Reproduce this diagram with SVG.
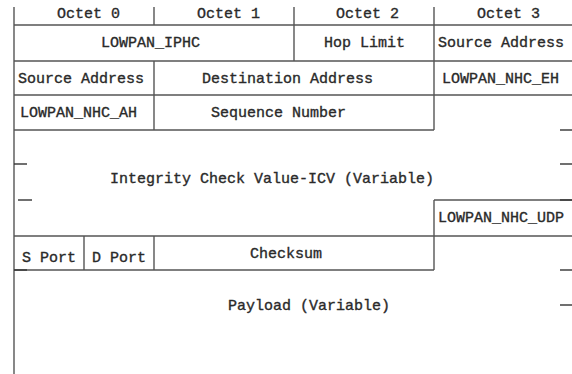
<svg xmlns="http://www.w3.org/2000/svg" width="572" height="374" viewBox="0 0 572 374">
  <style>
    .ln { stroke: #555; stroke-width: 1.4; fill: none; }
    .tk { stroke: #333; stroke-width: 1.4; fill: none; }
    .lbl { font-family: "Liberation Mono", "Courier New", monospace; font-size: 15px; font-weight: normal; fill: #2a2a2a; stroke: #2a2a2a; stroke-width: 0.35; }
  </style>
  <rect width="572" height="374" fill="#fff"/>

  <!-- frame and field separators -->
  <g id="grid">
    <line class="ln" x1="14" y1="7" x2="14" y2="374" stroke-width="1.8"/>
    <line class="ln" x1="154" y1="7" x2="154" y2="25"/>
    <line class="ln" x1="294" y1="7" x2="294" y2="61"/>
    <line class="ln" x1="434" y1="7" x2="434" y2="130"/>
    <line class="ln" x1="154" y1="61" x2="154" y2="130"/>
    <line class="ln" x1="14" y1="25" x2="572" y2="25"/>
    <line class="ln" x1="14" y1="61" x2="572" y2="61"/>
    <line class="ln" x1="14" y1="95" x2="572" y2="95"/>
    <line class="ln" x1="14" y1="130" x2="434" y2="130"/>
    <!-- UDP header box -->
    <line class="ln" x1="434" y1="200" x2="572" y2="200"/>
    <line class="ln" x1="434" y1="200" x2="434" y2="270"/>
    <line class="ln" x1="14" y1="236" x2="572" y2="236"/>
    <line class="ln" x1="84" y1="236" x2="84" y2="270"/>
    <line class="ln" x1="154" y1="236" x2="154" y2="270"/>
    <line class="ln" x1="14" y1="270" x2="434" y2="270"/>
  </g>

  <!-- variable-length break marks -->
  <g id="ticks">
    <line class="tk" x1="14" y1="164" x2="27" y2="164"/>
    <line class="tk" x1="18" y1="200" x2="32" y2="200"/>
    <line class="tk" x1="14" y1="270" x2="27" y2="270"/>
    <line class="tk" x1="560" y1="130" x2="572" y2="130"/>
    <line class="tk" x1="560" y1="164" x2="572" y2="164"/>
    <line class="tk" x1="560" y1="200" x2="572" y2="200"/>
    <line class="tk" x1="560" y1="270" x2="572" y2="270"/>
    <line class="tk" x1="560" y1="305" x2="572" y2="305"/>
  </g>

  <g id="octet0"><text class="lbl" x="57" y="18">Octet 0</text></g>
  <g id="octet1"><text class="lbl" x="197" y="18">Octet 1</text></g>
  <g id="octet2"><text class="lbl" x="336" y="18">Octet 2</text></g>
  <g id="octet3"><text class="lbl" x="477" y="18">Octet 3</text></g>

  <g id="lowpan-iphc"><text class="lbl" x="101" y="47">LOWPAN_IPHC</text></g>
  <g id="hop-limit"><text class="lbl" x="324" y="47">Hop Limit</text></g>
  <g id="src-addr-1"><text class="lbl" x="438" y="47">Source Address</text></g>

  <g id="src-addr-2"><text class="lbl" x="18" y="83">Source Address</text></g>
  <g id="dst-addr"><text class="lbl" x="202" y="83">Destination Address</text></g>
  <g id="nhc-eh"><text class="lbl" x="442" y="83">LOWPAN_NHC_EH</text></g>

  <g id="nhc-ah"><text class="lbl" x="20" y="117">LOWPAN_NHC_AH</text></g>
  <g id="seq-num"><text class="lbl" x="211" y="117">Sequence Number</text></g>

  <g id="icv"><text class="lbl" x="110" y="183">Integrity Check Value-ICV (Variable)</text></g>

  <g id="nhc-udp"><text class="lbl" x="438" y="222">LOWPAN_NHC_UDP</text></g>

  <g id="s-port"><text class="lbl" x="22" y="262">S Port</text></g>
  <g id="d-port"><text class="lbl" x="92" y="262">D Port</text></g>
  <g id="checksum"><text class="lbl" x="250" y="258">Checksum</text></g>

  <g id="payload"><text class="lbl" x="228" y="310">Payload (Variable)</text></g>
</svg>
